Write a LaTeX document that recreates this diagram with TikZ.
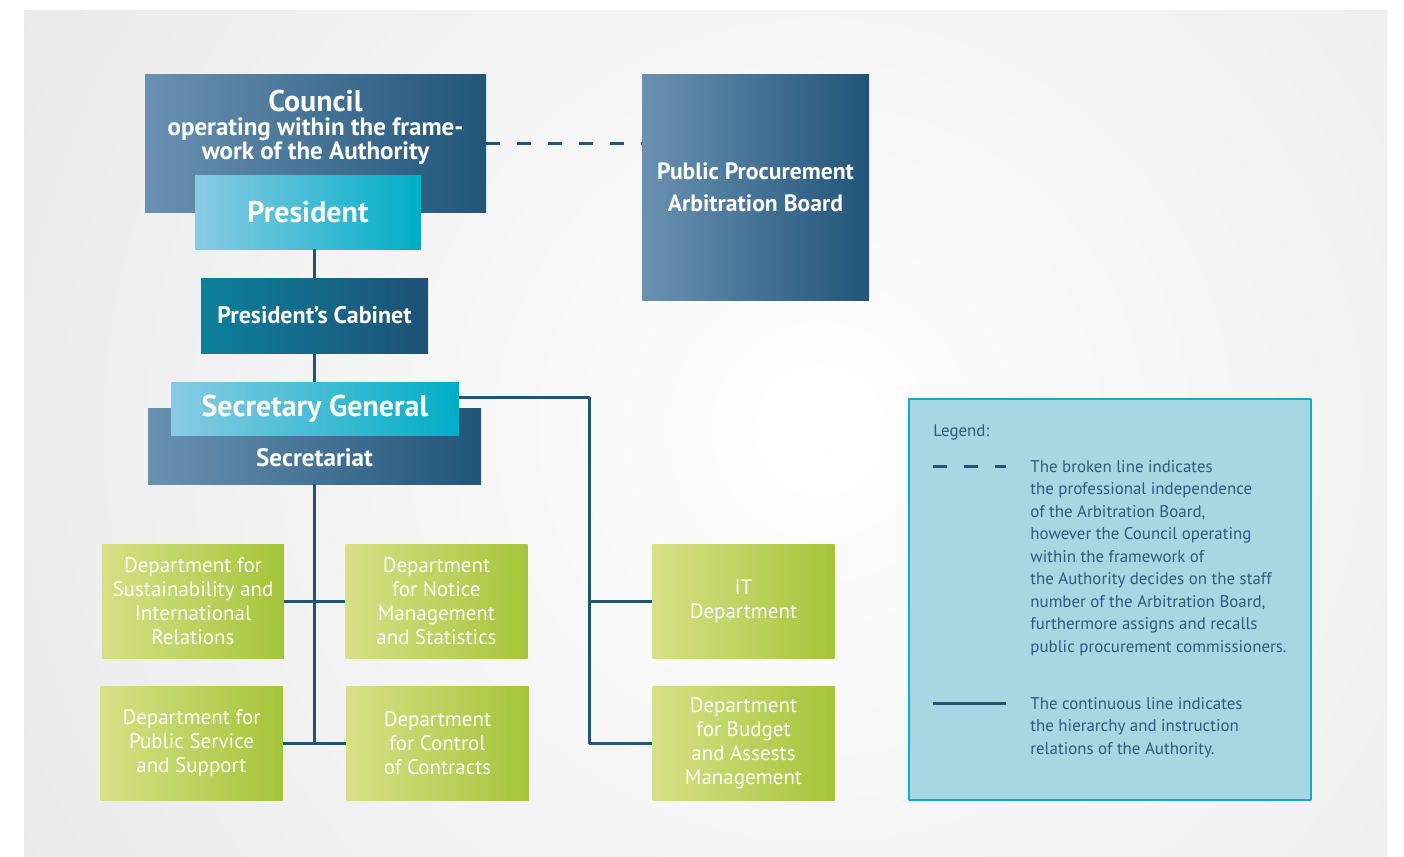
\documentclass[tikz,border=0pt]{standalone}
\usepackage{fontspec}
\setmainfont{PT Sans}
\definecolor{steelL}{HTML}{6A91B1}
\definecolor{steelR}{HTML}{21557A}
\definecolor{aquaL}{HTML}{88CBE3}
\definecolor{aquaR}{HTML}{00AEC7}
\definecolor{cabL}{HTML}{0B809C}
\definecolor{cabR}{HTML}{1F5175}
\definecolor{limeL}{HTML}{D6E187}
\definecolor{limeR}{HTML}{A5C439}
\definecolor{wire}{HTML}{1E5579}
\definecolor{legfill}{HTML}{A9D6E3}
\definecolor{legrule}{HTML}{17AAC6}
\definecolor{legtext}{HTML}{2D5B7B}
\begin{document}
\begin{tikzpicture}[x=0.5pt, y=-0.5pt, line join=round,
  steelbox/.style={left color=steelL, right color=steelR, inner sep=0pt},
  aquabox/.style={left color=aquaL, right color=aquaR, inner sep=0pt, text=white,
    font=\fontsize{15}{18}\selectfont\bfseries},
  limebox/.style={left color=limeL, right color=limeR, inner sep=0pt,
    minimum width=91pt, minimum height=57pt, align=center, text=white!95!limeL,
    font=\fontsize{10.5}{12}\selectfont},
  title/.style={text=white, align=center, font=\fontsize{12}{12}\selectfont\bfseries},
  wired/.style={draw=wire, line width=1.5pt},
  broken/.style={wired, dash pattern=on 7pt off 8.5pt},
  legtxt/.style={text=legtext, align=left, inner sep=0pt, font=\fontsize{8.45}{11.25}\selectfont}]
\useasboundingbox (0,0) rectangle (1404,857);
% background
\begin{scope}
\clip (24,10) rectangle (1387,857);
\shade[inner color=white, outer color=black!14] (820,430) circle (1550);
\end{scope}

% upper part
\node[steelbox, minimum width=170.5pt, minimum height=69pt] (council) at (315.5,143) {};
\node[title, font=\fontsize{12.5}{12}\selectfont\bfseries] (councilname) at (315.5,127) {{\fontsize{15}{16}\selectfont Council}\\operating within the frame-\\work of the Authority};
\node[aquabox, minimum width=113pt, minimum height=37pt] (president) at (308,212) {President};
\node[steelbox, minimum width=113.5pt, minimum height=113pt, title, font=\fontsize{11.8}{16}\selectfont\bfseries] (board) at (755.5,187) {Public Procurement\\Arbitration Board};
\node[left color=cabL, right color=cabR, minimum width=113.5pt, minimum height=37.5pt, title] (cabinet) at (314.5,315.5) {President’s Cabinet};

% secretariat
\node[steelbox, minimum width=166.5pt, minimum height=38pt] (secretariat) at (314.5,446) {};
\node[title, font=\fontsize{12.6}{12}\selectfont\bfseries] (secretariatname) at (314.5,458) {Secretariat};
\node[aquabox, minimum width=144pt, minimum height=26.5pt] (secgen) at (315,408.5) {Secretary General};

% departments
\node[limebox] (sust) at (193,601) {Department for\\Sustainability and\\International\\Relations};
\node[limebox] (notice) at (436.5,601) {Department\\for Notice\\Management\\and Statistics};
\node[limebox] (service) at (191.5,743) {Department for\\Public Service\\and Support};
\node[limebox] (control) at (437.5,743) {Department\\for Control\\of Contracts};
\node[limebox] (it) at (743.5,601) {IT\\Department};
\node[limebox] (budget) at (743.5,743) {Department\\for Budget\\and Assests\\Management};

% connectors
\draw[broken] (council.east) -- (council.east -| board.west);
\draw[wired] (cabinet.north) -- (cabinet.north |- president.south);
\draw[wired] (cabinet.south) -- (cabinet.south |- secgen.north);
\draw[wired] (secretariat.south) -- (secretariat.south |- service.east);
\draw[wired] (sust.east) -- (notice.west);
\draw[wired] (service.east) -- (control.west);
\coordinate (bus) at (589,397);
\draw[wired] (secgen.east |- bus) -- (bus) |- (budget.west);
\draw[wired] (bus |- it.west) -- (it.west);

% legend
\node[fill=legfill, draw=legrule, line width=1.2pt, minimum width=201pt, minimum height=200.5pt, inner sep=0pt] (legend) at (1110,599.5) {};
\node[legtxt, anchor=west] (legendhead) at (933,432) {Legend:};
\coordinate (brokenA) at (933,466);
\coordinate (brokenB) at (1006,466);
\draw[broken] (brokenA) -- (brokenB);
\node[legtxt, anchor=north west] (brokentext) at (1030,460) {The broken line indicates\\the professional independence\\of the Arbitration Board,\\however the Council operating\\within the framework of\\the Authority decides on the staff\\number of the Arbitration Board,\\furthermore assigns and recalls\\public procurement commissioners.};
\coordinate (solidA) at (933,703);
\coordinate (solidB) at (1006,703);
\draw[wired] (solidA) -- (solidB);
\node[legtxt, anchor=north west] (solidtext) at (1030,697) {The continuous line indicates\\the hierarchy and instruction\\relations of the Authority.};
\end{tikzpicture}
\end{document}
